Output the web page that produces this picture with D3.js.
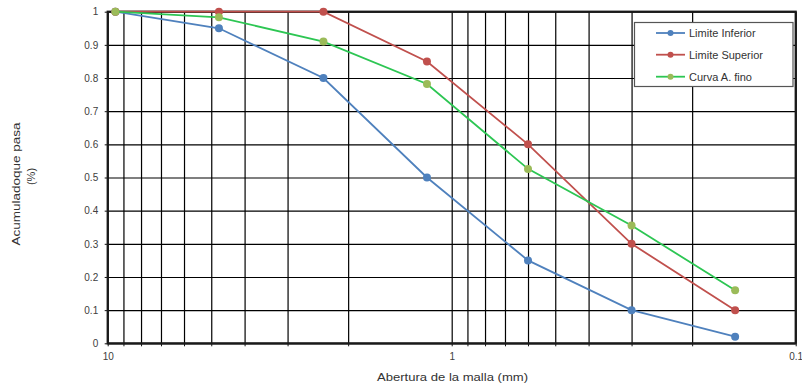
<!DOCTYPE html>
<html>
<head>
<meta charset="utf-8">
<script src="https://cdn.jsdelivr.net/npm/d3@7/dist/d3.min.js"></script>
<style>
  html, body { margin: 0; padding: 0; background: #fff; }
  svg { display: block; font-family: "Liberation Sans", Arial, sans-serif; }
</style>
</head>
<body>
<svg id="chart" width="802" height="387"></svg>
<script>
// ---- data ----
const sieveSizes = [9.5, 4.75, 2.36, 1.18, 0.6, 0.3, 0.15];
const limiteInferior = [1.0, 0.95, 0.80, 0.50, 0.25, 0.10, 0.02];
const limiteSuperior = [1.0, 1.0, 1.0, 0.85, 0.60, 0.30, 0.10];
const curvaAFino = [1.0, 0.983, 0.91, 0.782, 0.526, 0.355, 0.16];
const seriesNames = ["Limite Inferior", "Limite Superior", "Curva A. fino"];
const xTickLabels = [10, 1, 0.1];
const yTickValues = [0, 0.1, 0.2, 0.3, 0.4, 0.5, 0.6, 0.7, 0.8, 0.9, 1];
const xTitle = "Abertura de la malla (mm)";
const yTitle = ["Acumuladoque pasa", "(%)"];

// ---- layout ----
const svg = d3.select("#chart");
const L = 107.7, R = 795.7, T = 11.7, B = 343.3;
const x = d3.scaleLog().domain([10, 0.1]).range([L, R]);
const y = d3.scaleLinear().domain([0, 1]).range([B, T]);

const styles = [
  { line: "#4F81BD", marker: "#4F81BD" },
  { line: "#C0504D", marker: "#C0504D" },
  { line: "#2DC653", marker: "#9BBB59" }
];
const seriesValues = [limiteInferior, limiteSuperior, curvaAFino];

// grid: vertical (log)
const xGridTicks = x.ticks();
svg.append("g")
  .attr("transform", `translate(0,${B})`)
  .call(d3.axisBottom(x).tickValues(xGridTicks).tickSize(-(B - T)).tickFormat(""))
  .call(g => g.select(".domain").remove())
  .call(g => g.selectAll("line").attr("stroke", "#000").attr("stroke-width", 1.2));

// grid: horizontal
svg.append("g")
  .attr("transform", `translate(${L},0)`)
  .call(d3.axisLeft(y).tickValues(yTickValues).tickSize(-(R - L)).tickFormat(""))
  .call(g => g.select(".domain").remove())
  .call(g => g.selectAll("line").attr("stroke", "#000").attr("stroke-width", 1.2));

// y axis ticks + labels
svg.append("g")
  .attr("transform", `translate(${L},0)`)
  .call(d3.axisLeft(y).tickValues(yTickValues).tickSize(3).tickPadding(6.5).tickFormat(d3.format("~g")))
  .call(g => g.select(".domain").remove())
  .call(g => g.selectAll("line").attr("stroke", "#111"))
  .call(g => g.selectAll("text").attr("font-size", 10).attr("fill", "#404040")
    .attr("font-family", "'Liberation Sans', Arial, sans-serif"));

// x axis ticks + labels
const isLabel = d => xTickLabels.some(v => Math.abs(v - d) < 1e-9);
svg.append("g")
  .attr("transform", `translate(0,${B})`)
  .call(d3.axisBottom(x).tickValues(xGridTicks).tickSize(3).tickPadding(7)
    .tickFormat(d => isLabel(d) ? d3.format("~g")(d) : ""))
  .call(g => g.select(".domain").remove())
  .call(g => g.selectAll("line").attr("stroke", "#111"))
  .call(g => g.selectAll("text").attr("font-size", 10).attr("fill", "#404040")
    .attr("font-family", "'Liberation Sans', Arial, sans-serif"));

// plot frame (thicker)
svg.append("rect")
  .attr("x", L).attr("y", T).attr("width", R - L).attr("height", B - T)
  .attr("fill", "none").attr("stroke", "#1a1a1a").attr("stroke-width", 2.2);

// series
const line = d3.line().x(d => x(d[0])).y(d => y(d[1]));
seriesValues.forEach((vals, i) => {
  const pts = sieveSizes.map((s, j) => [s, vals[j]]);
  const g = svg.append("g");
  g.append("path").datum(pts).attr("d", line)
    .attr("fill", "none").attr("stroke", styles[i].line).attr("stroke-width", 1.8);
  g.selectAll("circle").data(pts).join("circle")
    .attr("cx", d => x(d[0])).attr("cy", d => y(d[1])).attr("r", 4)
    .attr("fill", styles[i].marker);
});

// legend
const lg = svg.append("g");
lg.append("rect").attr("x", 634.5).attr("y", 22.5).attr("width", 158.5).attr("height", 64)
  .attr("fill", "#fff").attr("stroke", "#555").attr("stroke-width", 1.2);
const rowY = [33, 54.7, 76.7];
seriesNames.forEach((name, i) => {
  lg.append("line").attr("x1", 656).attr("x2", 685).attr("y1", rowY[i]).attr("y2", rowY[i])
    .attr("stroke", styles[i].line).attr("stroke-width", 1.8);
  lg.append("circle").attr("cx", 670.5).attr("cy", rowY[i]).attr("r", 3).attr("fill", styles[i].marker);
  lg.append("text").attr("x", 689).attr("y", rowY[i]).attr("dy", "0.35em")
    .attr("font-size", 11).attr("fill", "#333").text(name);
});

// axis titles
svg.append("text").attr("x", 452.5).attr("y", 381)
  .attr("text-anchor", "middle").attr("font-size", 11.5).attr("fill", "#333")
  .attr("textLength", 151).attr("lengthAdjust", "spacingAndGlyphs")
  .text(xTitle);
svg.append("text").attr("transform", "translate(19.5,184) rotate(-90)")
  .attr("text-anchor", "middle").attr("font-size", 11).attr("fill", "#333")
  .attr("textLength", 123).attr("lengthAdjust", "spacingAndGlyphs")
  .text(yTitle[0]);
svg.append("text").attr("transform", "translate(35,176.5) rotate(-90)")
  .attr("text-anchor", "middle").attr("font-size", 11).attr("fill", "#333")
  .text(yTitle[1]);
</script>
</body>
</html>
